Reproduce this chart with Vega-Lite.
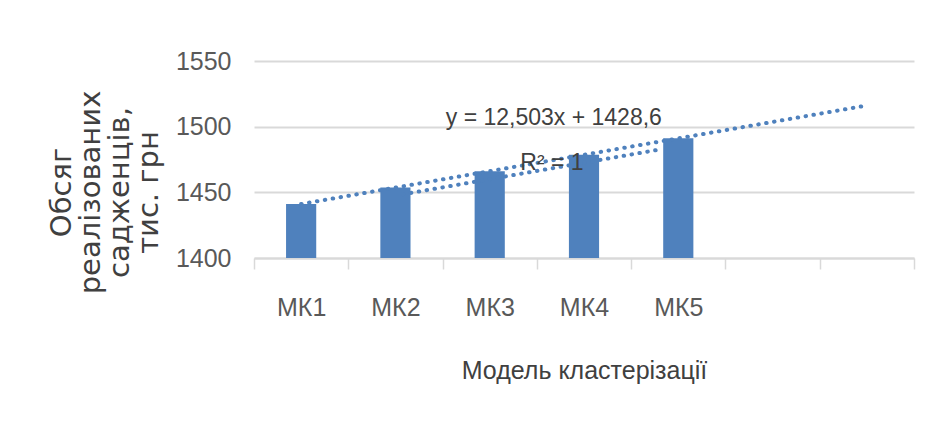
{
  "$schema": "https://vega.github.io/schema/vega-lite/v6.json",
  "width": 660,
  "height": 197,
  "autosize": {"type": "none"},
  "padding": {"left": 254, "top": 61, "right": 15, "bottom": 183},
  "background": "white",
  "config": {
    "view": {"stroke": null},
    "font": "Liberation Sans"
  },
  "encoding": {
    "y": {
      "field": "v",
      "type": "quantitative",
      "scale": {"domain": [1400, 1550], "nice": false, "zero": false},
      "axis": {
        "values": [1400, 1450, 1500, 1550],
        "format": "d",
        "domain": false,
        "ticks": false,
        "grid": true,
        "gridColor": "#d9d9d9",
        "gridWidth": 2,
        "labelFont": "Liberation Sans",
        "labelFontSize": 25,
        "labelColor": "#595959",
        "labelPadding": 23,
        "title": ["Обсяг", "реалізованих", "садженців,", "тис. грн"],
        "titleFont": "DejaVu Sans",
        "titleFontSize": 29,
        "titleFontWeight": "normal",
        "titleColor": "#404040",
        "titleLineHeight": 29,
        "titleBaseline": "middle",
        "titleAlign": "center",
        "titleAngle": -90,
        "titleX": -193,
        "titleY": 131
      }
    }
  },
  "layer": [
    {
      "data": {"values": [
        {"k": "МК1", "v": 1441.1},
        {"k": "МК2", "v": 1453.6},
        {"k": "МК3", "v": 1466.1},
        {"k": "МК4", "v": 1478.6},
        {"k": "МК5", "v": 1491.1}
      ]},
      "mark": {"type": "bar", "color": "#4f81bd", "width": {"band": 0.32}},
      "encoding": {
        "x": {
          "field": "k",
          "type": "nominal",
          "scale": {"domain": ["МК1", "МК2", "МК3", "МК4", "МК5", "_6", "_7"], "paddingInner": 0, "paddingOuter": 0},
          "axis": {
            "tickBand": "extent",
            "labelExpr": "indexof(datum.label, 'МК') == 0 ? datum.label : ''",
            "labelAngle": 0,
            "domainColor": "#d9d9d9",
            "domainWidth": 2,
            "tickColor": "#d9d9d9",
            "tickWidth": 1.5,
            "tickSize": 11,
            "labelFont": "Liberation Sans",
            "labelFontSize": 25,
            "labelColor": "#595959",
            "labelPadding": 26,
            "title": "Модель кластерізації",
            "titleFont": "Liberation Sans",
            "titleFontSize": 25,
            "titleFontWeight": "normal",
            "titleColor": "#404040",
            "titlePadding": 38
          }
        },
        "y2": {"datum": 1400}
      }
    },
    {
      "data": {"values": [
        {"x": 1, "v": 1441.1},
        {"x": 7, "v": 1516.1}
      ]},
      "mark": {"type": "line", "color": "#4f81bd", "strokeWidth": 4, "strokeDash": [0.5, 7.5], "strokeCap": "round"},
      "encoding": {
        "x": {"field": "x", "type": "quantitative", "scale": {"domain": [0.5, 7.5], "nice": false, "zero": false}, "axis": null}
      }
    },
    {
      "data": {"values": [
        {"x": 2.08, "v": 1448.5},
        {"x": 4.78, "v": 1482.3}
      ]},
      "mark": {"type": "line", "color": "#4f81bd", "strokeWidth": 4, "strokeDash": [0.5, 7.5], "strokeCap": "round"},
      "encoding": {
        "x": {"field": "x", "type": "quantitative", "scale": {"domain": [0.5, 7.5], "nice": false, "zero": false}, "axis": null}
      }
    },
    {
      "data": {"values": [
        {"x": 3.68, "v": 1506.7, "t": "y = 12,503x + 1428,6"},
        {"x": 3.66, "v": 1472.5, "t": "R² = 1"}
      ]},
      "mark": {"type": "text", "color": "#404040", "fontSize": 23, "align": "center", "baseline": "middle", "font": "Liberation Sans"},
      "encoding": {
        "x": {"field": "x", "type": "quantitative", "scale": {"domain": [0.5, 7.5], "nice": false, "zero": false}, "axis": null},
        "text": {"field": "t"}
      }
    }
  ],
  "resolve": {"scale": {"x": "independent"}}
}
